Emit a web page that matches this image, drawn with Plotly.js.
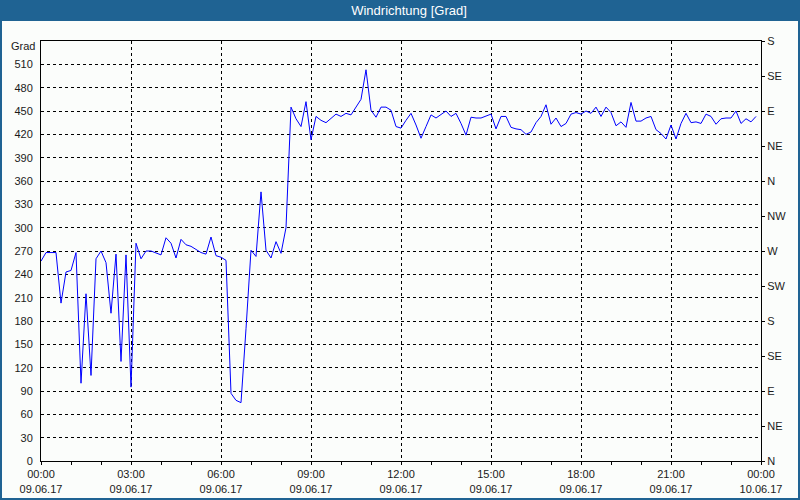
<!DOCTYPE html>
<html>
<head>
<meta charset="utf-8">
<script src="https://cdn.plot.ly/plotly-3.0.1.min.js"></script>
<style>
html,body{margin:0;padding:0;background:#fbfdfb;}
#chart{width:800px;height:500px;}
</style>
</head>
<body>
<div id="chart"></div>
<script>
// Wind direction, 10-minute samples starting 09.06.17 00:00
const startTime = "2017-06-09T00:00:00";
const stepMinutes = 10;
const windDirection = [
  257, 268, 268, 268, 203, 243, 245, 268, 100, 215,
  110, 260, 270, 255, 190, 266, 128, 265, 95, 280,
  260, 270, 270, 268, 265, 287, 280, 261, 285, 278,
  276, 272, 268, 266, 288, 264, 262, 258, 87, 78,
  75, 170, 271, 263, 346, 271, 261, 282, 267, 300,
  455, 440, 430, 462, 413, 443, 438, 435, 441, 446,
  443, 447, 445, 455, 465, 503, 451, 442, 455, 455,
  451, 430, 428, 438, 447, 432, 415, 430, 445, 441,
  445, 450, 443, 447, 434, 419, 442, 441, 441, 443,
  446, 427, 443, 443, 429, 427, 426, 420, 423, 435,
  443, 458, 433, 441, 430, 434, 446, 448, 446, 450,
  447, 455, 443, 455, 448, 431, 436, 429, 461, 437,
  437, 441, 443, 426, 421, 414, 432, 414, 434, 447,
  435, 436, 434, 446, 443, 433, 440, 441, 441, 450,
  434, 440, 436, 443
];
const leftTickVals = [0,30,60,90,120,150,180,210,240,270,300,330,360,390,420,450,480,510];
const leftTickText = ["0","30","60","90","120","150","180","210","240","270","300","330","360","390","420","450","480","510"];
const unitLabel = "Grad";
const rightTickVals = [0,45,90,135,180,225,270,315,360,405,450,495,540];
const rightTickText = ["N","NE","E","SE","S","SW","W","NW","N","NE","E","SE","S"];
const xTickVals = ["2017-06-09 00:00","2017-06-09 03:00","2017-06-09 06:00","2017-06-09 09:00","2017-06-09 12:00","2017-06-09 15:00","2017-06-09 18:00","2017-06-09 21:00","2017-06-10 00:00"];
const xTickText = ["00:00<br>09.06.17","03:00<br>09.06.17","06:00<br>09.06.17","09:00<br>09.06.17","12:00<br>09.06.17","15:00<br>09.06.17","18:00<br>09.06.17","21:00<br>09.06.17","00:00<br>10.06.17"];
const titleText = "Windrichtung [Grad]";

// timestamps of the samples
const t0 = new Date(startTime + "Z").getTime();
const times = windDirection.map((_, i) => {
  const d = new Date(t0 + i * stepMinutes * 60000);
  return d.toISOString().slice(0, 16).replace("T", " ");
});

// geometry in pixels
const W = 800, H = 500, L = 41, R = 39, T = 41, B = 39;
const pw = W - L - R, ph = H - T - B;
const px = v => (v - L) / pw;       // pixel x -> paper x
const py = v => (H - B - v) / ph;   // pixel y -> paper y
const blue = "#1f6393";
const font = "Liberation Sans, Arial, sans-serif";
const dash = "3px,3px";

const traces = [
  {x: times, y: windDirection, type: "scatter", mode: "lines",
   line: {color: "#0000ff", width: 1}, hoverinfo: "skip", yaxis: "y"},
  {x: [times[0]], y: [0], type: "scatter", mode: "markers",
   marker: {opacity: 0}, hoverinfo: "skip", yaxis: "y2"}
];

const layout = {
  width: W, height: H,
  margin: {l: L, r: R, t: T, b: B},
  paper_bgcolor: "#fbfdfb",
  plot_bgcolor: "#fbfdfb",
  showlegend: false,
  font: {family: font, size: 11, color: "#1a1a1a"},
  title: {text: titleText, font: {family: font, size: 13, color: "#ffffff"},
          xref: "container", x: 409 / W, xanchor: "center",
          yref: "container", y: 1 - 10.5 / H, yanchor: "middle"},
  xaxis: {
    type: "date",
    range: ["2017-06-09 00:00", "2017-06-10 00:00"],
    tickmode: "array", tickvals: xTickVals, ticktext: xTickText,
    showgrid: true, gridcolor: "#000000", griddash: dash, gridwidth: 1,
    showline: true, linecolor: "#000000", linewidth: 1, mirror: true,
    ticks: "outside", ticklen: 3, tickcolor: "#000000",
    minor: {dtick: 3600000, ticks: "outside", ticklen: 3, tickcolor: "#000000", showgrid: false},
    zeroline: false, fixedrange: true
  },
  yaxis: {
    range: [0, 540],
    tickmode: "array", tickvals: leftTickVals, ticktext: leftTickText,
    showgrid: true, gridcolor: "#000000", griddash: dash, gridwidth: 1,
    showline: true, linecolor: "#000000", linewidth: 1, mirror: true,
    ticks: "outside", ticklen: 5, tickcolor: "rgba(0,0,0,0)",
    zeroline: false, fixedrange: true
  },
  yaxis2: {
    range: [0, 540], overlaying: "y", side: "right",
    tickmode: "array", tickvals: rightTickVals, ticktext: rightTickText,
    showgrid: false, showline: true, linecolor: "#000000", linewidth: 1,
    ticks: "outside", ticklen: 3, tickcolor: "#000000",
    zeroline: false, fixedrange: true
  },
  annotations: [
    {text: unitLabel, xref: "paper", yref: "paper", x: px(37), y: py(46),
     xanchor: "right", yanchor: "middle", showarrow: false,
     font: {family: font, size: 11, color: "#1a1a1a"}}
  ],
  shapes: [
    {type: "rect", xref: "paper", yref: "paper", layer: "below",
     x0: px(0), x1: px(W), y0: py(21), y1: py(0),
     fillcolor: blue, line: {width: 0}},
    {type: "rect", xref: "paper", yref: "paper", layer: "above",
     x0: px(1), x1: px(W - 1), y0: py(H - 1), y1: py(1),
     fillcolor: "rgba(0,0,0,0)", line: {color: blue, width: 2}}
  ]
};

Plotly.newPlot("chart", traces, layout, {displayModeBar: false, staticPlot: true});
</script>
</body>
</html>
